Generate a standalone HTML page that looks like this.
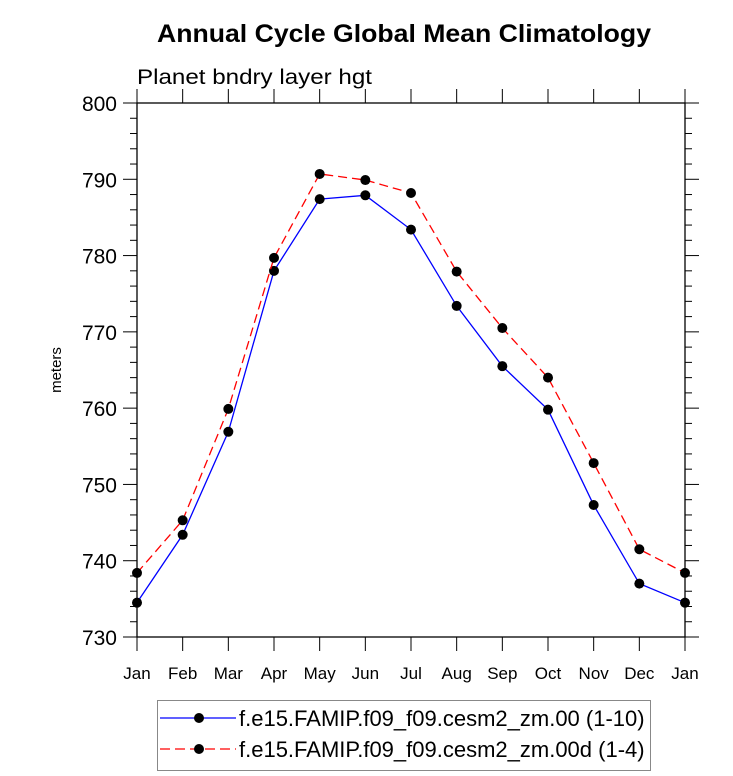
<!DOCTYPE html>
<html><head><meta charset="utf-8"><style>body{margin:0;background:#fff}svg{display:block}text{font-family:"Liberation Sans",sans-serif}</style></head>
<body>
<svg id="c" width="733" height="776"></svg>
<script>
const months=["Jan","Feb","Mar","Apr","May","Jun","Jul","Aug","Sep","Oct","Nov","Dec","Jan"];
const seriesA=[734.5,743.4,756.9,778.0,787.4,787.9,783.4,773.4,765.5,759.8,747.3,737.0,734.5];
const seriesB=[738.4,745.3,759.9,779.7,790.7,789.9,788.2,777.9,770.5,764.0,752.8,741.5,738.4];
const yTicks=[730,740,750,760,770,780,790,800];
const L=137,R=685,T=103,B=637,yMin=730,yMax=800;
const X=i=>L+(R-L)*i/(months.length-1);
const Y=v=>B-(B-T)*(v-yMin)/(yMax-yMin);
const s=document.getElementById('c');const NS="http://www.w3.org/2000/svg";
function el(t,a,p){const e=document.createElementNS(NS,t);for(const k in a)e.setAttribute(k,a[k]);(p||s).appendChild(e);return e;}
let e;
e=el('text',{x:157,y:42,'font-size':25,'font-weight':'bold',textLength:494,lengthAdjust:'spacingAndGlyphs'});e.textContent="Annual Cycle Global Mean Climatology";


e=el('text',{x:137,y:84,'font-size':21,textLength:235,lengthAdjust:'spacingAndGlyphs'});e.textContent="Planet bndry layer hgt";


e=el('text',{x:0,y:0,'font-size':15,'text-anchor':'middle',transform:'translate(61,370) rotate(-90)'});e.textContent="meters";


e=el('rect',{x:L,y:T,width:R-L,height:B-T,fill:'none',stroke:'#000','stroke-width':1.3});


for(let v=yMin;v<=yMax;v+=2){const maj=(v-yMin)%10===0;const y=Y(v);const len=maj?14:7;
 el('line',{x1:L-len,x2:L,y1:y,y2:y,stroke:'#000','stroke-width':1});
 el('line',{x1:R,x2:R+len,y1:y,y2:y,stroke:'#000','stroke-width':1});}
yTicks.forEach(v=>{e=el('text',{x:117,y:Y(v)+8,'text-anchor':'end','font-size':21});e.textContent=v;

});
months.forEach((m,i)=>{const x=X(i);el('line',{x1:x,x2:x,y1:B,y2:B+14,stroke:'#000','stroke-width':1});el('line',{x1:x,x2:x,y1:T-14,y2:T,stroke:'#000','stroke-width':1});
 e=el('text',{x:x,y:679,'text-anchor':'middle','font-size':17});e.textContent=m;
 
 });
function series(d,col,dash,name){const g=el('g',{});
 
 
 el('polyline',{points:d.map((v,i)=>X(i)+','+Y(v)).join(' '),fill:'none',stroke:col,'stroke-width':1.3,'stroke-dasharray':dash},g);
 d.forEach((v,i)=>{const c=el('circle',{cx:X(i),cy:Y(v),r:5,fill:'#000'},g);
 
 });}
series(seriesA,'#0000ff','none','series-zm00');
series(seriesB,'#ff0000','9,5','series-zm00d');
e=el('rect',{x:157.5,y:700.5,width:493,height:70,fill:'#fff',stroke:'#888','stroke-width':1});


[['#0000ff','none','f.e15.FAMIP.f09_f09.cesm2_zm.00 (1-10)',718],['#ff0000','10,5','f.e15.FAMIP.f09_f09.cesm2_zm.00d (1-4)',749]].forEach(a=>{
 el('line',{x1:160,x2:236,y1:a[3],y2:a[3],stroke:a[0],'stroke-width':1.3,'stroke-dasharray':a[1]});
 el('circle',{cx:199,cy:a[3],r:5,fill:'#000'});
 const t=el('text',{x:239,y:a[3]+8,'font-size':22});t.textContent=a[2];
 
 });
</script>
</body></html>
